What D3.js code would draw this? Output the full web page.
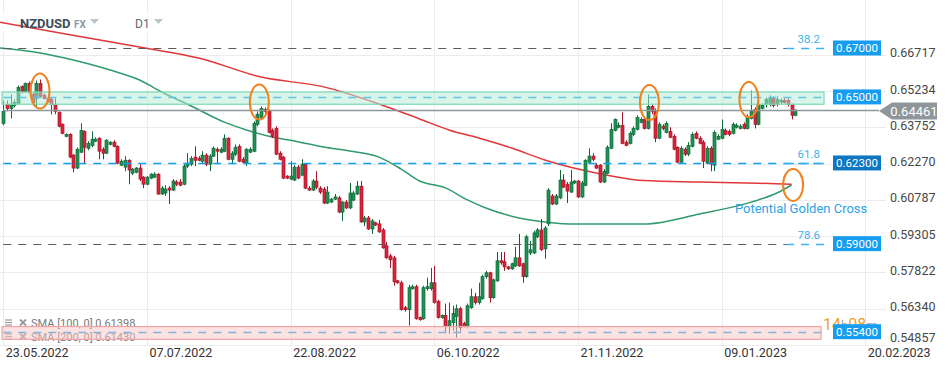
<!DOCTYPE html>
<html><head><meta charset="utf-8">
<script src="https://cdn.jsdelivr.net/npm/d3@7"></script>
<style>html,body{margin:0;padding:0;background:#fff;overflow:hidden}svg{display:block;font-family:Roboto,"Noto Sans",Arial,sans-serif}</style>
</head><body><svg id="c" width="949" height="370"></svg>
<script>
const symbol="NZDUSD", market="FX", interval="D1";
const openP=[
.6392,.6469,.6453,.6465,.6473,.6543,.6522,.6555,.6510,.6494,
.6555,.6506,.6494,.6490,.6469,.6437,.6388,.6339,.6347,.6262,
.6209,.6274,.6359,.6290,.6302,.6319,.6331,.6286,.6270,.6306,
.6315,.6298,.6221,.6213,.6241,.6188,.6192,.6209,.6172,.6143,
.6168,.6172,.6184,.6103,.6107,.6127,.6119,.6152,.6152,.6143,
.6217,.6225,.6254,.6249,.6237,.6262,.6225,.6258,.6286,.6274,
.6278,.6331,.6245,.6266,.6298,.6245,.6229,.6274,.6278,.6388,
.6416,.6449,.6441,.6363,.6371,.6270,.6254,.6176,.6164,.6160,
.6213,.6180,.6225,.6127,.6119,.6156,.6127,.6123,.6066,.6070,
.6082,.6087,.6029,.6070,.6046,.6078,.6103,.6135,.5989,.6005,
.5960,.5985,.5981,.5956,.5891,.5850,.5842,.5748,.5740,.5638,
.5630,.5716,.5724,.5598,.5593,.5716,.5716,.5740,.5663,.5598,
.5606,.5561,.5577,.5602,.5634,.5573,.5561,.5638,.5683,.5659,
.5675,.5765,.5781,.5679,.5748,.5830,.5826,.5805,.5797,.5809,
.5842,.5818,.5765,.5862,.5862,.5928,.5956,.5879,.5981,.6095,
.6062,.6087,.6160,.6143,.6111,.6148,.6156,.6091,.6139,.6233,
.6258,.6221,.6221,.6152,.6188,.6290,.6363,.6376,.6384,.6315,
.6310,.6347,.6367,.6396,.6408,.6371,.6461,.6445,.6331,.6380,
.6355,.6359,.6339,.6294,.6233,.6286,.6266,.6298,.6351,.6331,
.6315,.6229,.6290,.6221,.6327,.6331,.6363,.6359,.6351,.6376,
.6371,.6388,.6371,.6412,.6449,.6388,.6453,.6469,.6469,.6494,
.6469,.6481,.6485,.6485,.6469,.6425];
const highP=[
.6485,.6485,.6510,.6490,.6547,.6547,.6559,.6563,.6518,.6567,
.6571,.6514,.6502,.6498,.6494,.6441,.6392,.6351,.6351,.6266,
.6294,.6392,.6363,.6319,.6359,.6335,.6335,.6294,.6327,.6319,
.6323,.6302,.6245,.6258,.6245,.6209,.6213,.6225,.6176,.6176,
.6188,.6192,.6188,.6135,.6139,.6135,.6164,.6160,.6164,.6225,
.6270,.6258,.6298,.6258,.6278,.6270,.6266,.6298,.6294,.6294,
.6347,.6335,.6278,.6306,.6306,.6254,.6290,.6294,.6400,.6441,
.6461,.6457,.6449,.6371,.6380,.6278,.6258,.6180,.6237,.6221,
.6221,.6245,.6229,.6135,.6164,.6196,.6135,.6131,.6135,.6087,
.6103,.6095,.6074,.6078,.6148,.6115,.6156,.6156,.6013,.6013,
.6001,.5989,.5997,.5964,.5907,.5858,.5850,.5752,.5748,.5646,
.5732,.5732,.5732,.5602,.5728,.5761,.5801,.5809,.5671,.5610,
.5655,.5659,.5646,.5651,.5642,.5581,.5655,.5716,.5699,.5740,
.5773,.5789,.5785,.5757,.5866,.5866,.5866,.5809,.5822,.5887,
.5940,.5822,.5936,.5911,.5952,.5964,.6001,.5972,.6127,.6103,
.6103,.6201,.6184,.6152,.6201,.6160,.6160,.6156,.6245,.6290,
.6270,.6229,.6225,.6205,.6302,.6392,.6412,.6396,.6437,.6323,
.6359,.6380,.6425,.6416,.6416,.6510,.6469,.6453,.6396,.6388,
.6400,.6376,.6347,.6298,.6298,.6294,.6315,.6355,.6359,.6339,
.6323,.6298,.6298,.6363,.6347,.6408,.6371,.6367,.6396,.6392,
.6388,.6396,.6429,.6526,.6457,.6477,.6473,.6498,.6506,.6502,
.6502,.6494,.6494,.6494,.6473,.6449];
const lowP=[
.6384,.6441,.6412,.6457,.6469,.6514,.6518,.6514,.6465,.6461,
.6498,.6490,.6477,.6429,.6429,.6376,.6347,.6335,.6249,.6192,
.6205,.6270,.6229,.6282,.6294,.6315,.6245,.6245,.6266,.6302,
.6294,.6225,.6217,.6196,.6143,.6180,.6188,.6156,.6127,.6139,
.6164,.6168,.6099,.6099,.6095,.6062,.6115,.6135,.6135,.6139,
.6209,.6217,.6217,.6237,.6229,.6217,.6196,.6254,.6225,.6270,
.6274,.6241,.6225,.6258,.6233,.6229,.6217,.6270,.6274,.6380,
.6408,.6433,.6351,.6331,.6262,.6241,.6164,.6164,.6160,.6156,
.6164,.6176,.6123,.6115,.6115,.6123,.6103,.6062,.6062,.6066,
.6078,.6025,.5993,.6042,.6042,.6074,.6099,.5985,.5972,.5956,
.5940,.5972,.5944,.5879,.5838,.5801,.5728,.5736,.5626,.5622,
.5565,.5712,.5589,.5585,.5589,.5708,.5708,.5655,.5593,.5593,
.5537,.5532,.5545,.5516,.5541,.5557,.5553,.5634,.5651,.5651,
.5671,.5757,.5659,.5675,.5744,.5814,.5789,.5793,.5793,.5805,
.5805,.5740,.5761,.5854,.5858,.5923,.5871,.5838,.5972,.6058,
.6058,.6082,.6127,.6066,.6107,.6143,.6087,.6087,.6135,.6229,
.6237,.6205,.6148,.6148,.6184,.6286,.6359,.6371,.6306,.6298,
.6306,.6339,.6363,.6392,.6367,.6367,.6429,.6315,.6327,.6363,
.6351,.6331,.6282,.6229,.6229,.6258,.6258,.6294,.6327,.6306,
.6209,.6225,.6196,.6196,.6323,.6327,.6343,.6339,.6347,.6371,
.6367,.6367,.6367,.6408,.6371,.6384,.6449,.6457,.6461,.6457,
.6461,.6469,.6473,.6461,.6408,.6421];
const closeP=[
.6441,.6453,.6469,.6477,.6539,.6522,.6555,.6518,.6477,.6555,
.6502,.6494,.6481,.6469,.6441,.6380,.6351,.6347,.6254,.6209,
.6286,.6363,.6294,.6310,.6327,.6327,.6278,.6270,.6323,.6315,
.6298,.6229,.6237,.6241,.6201,.6205,.6209,.6164,.6143,.6172,
.6184,.6184,.6103,.6127,.6123,.6119,.6156,.6143,.6139,.6217,
.6229,.6249,.6241,.6241,.6262,.6225,.6258,.6290,.6278,.6286,
.6331,.6245,.6270,.6294,.6237,.6233,.6286,.6286,.6392,.6429,
.6453,.6441,.6355,.6339,.6266,.6245,.6168,.6168,.6176,.6213,
.6168,.6225,.6127,.6119,.6156,.6131,.6111,.6066,.6111,.6082,
.6091,.6029,.6070,.6046,.6107,.6107,.6135,.5989,.6005,.5960,
.5993,.5976,.5948,.5883,.5842,.5834,.5744,.5740,.5630,.5630,
.5720,.5724,.5593,.5589,.5720,.5724,.5740,.5659,.5598,.5606,
.5561,.5585,.5614,.5634,.5557,.5561,.5646,.5683,.5659,.5683,
.5765,.5781,.5679,.5752,.5830,.5822,.5805,.5797,.5818,.5842,
.5809,.5765,.5928,.5875,.5944,.5956,.5875,.5964,.6119,.6062,
.6095,.6160,.6131,.6115,.6152,.6156,.6091,.6148,.6241,.6258,
.6245,.6209,.6152,.6196,.6294,.6367,.6408,.6384,.6310,.6302,
.6351,.6371,.6416,.6408,.6371,.6461,.6441,.6331,.6388,.6371,
.6392,.6335,.6286,.6233,.6290,.6266,.6302,.6347,.6331,.6310,
.6237,.6290,.6225,.6355,.6339,.6367,.6347,.6347,.6388,.6384,
.6380,.6371,.6420,.6441,.6388,.6469,.6465,.6490,.6494,.6465,
.6490,.6485,.6477,.6469,.6425,.6446];

// moving averages, sampled at bar indices
const sma100Idx=[-1,10,19,29,37,43,51,60,66,73,79,87,94,102,108,113,120,126,131,140,147,156,174,189,205,210,214];
const sma100Val=[.6700,.6680,.6651,.6610,.6569,.6520,.6463,.6397,.6365,.6336,.6320,.6295,.6279,.6254,.6205,.6156,.6128,.6079,.6046,.6005,.5989,.5980,.5980,.6021,.6079,.6107,.61398];
const sma200Idx=[-1,20,40,53,70,87,102,113,121,130,138,147,156,165,174,189,205,214];
const sma200Val=[.6806,.6749,.6696,.6659,.6581,.6541,.6471,.6410,.6365,.6328,.6291,.6242,.6205,.6177,.6158,.6152,.6147,.61430];
const legendLabels=["SMA [100, 0] 0.61398","SMA [200, 0] 0.61430"];

// axes
const dateIdx=[0,39,78,117,156,195,234];
const dateLabels=["23.05.2022","07.07.2022","22.08.2022","06.10.2022","21.11.2022","09.01.2023","20.02.2023"];
const priceTicks=[0.66717,0.65234,0.63752,0.62270,0.60787,0.59305,0.57822,0.56340,0.54857];

// drawings
const levelPrices=[0.67,0.65,0.623,0.59,0.554];
const fibPrices=[0.67,0.623,0.59];
const fibLabels=["38.2","61.8","78.6"];
const zoneLow=[0.6470,0.5509], zoneHigh=[0.6520,0.5561], zoneFrom=[-0.35,-0.35], zoneTo=[222.8,222.0];
const lastPrice=0.64461;
const markIdx=[9.96,69.5,175.4,202.4,214.4];
const markPrice=[0.6524,0.6479,0.6477,0.6489,0.6140];
const noteText="Potential Golden Cross", noteIdx=198.6, notePrice=0.6042;
const timerParts=["14","h","08","m"];

const svg=d3.select('#c');
const x=d3.scaleLinear().domain([0,234]).range([3.3,865.3]);
const y=d3.scaleLinear().domain([0.67,0.554]).range([48,331.7]);
const bars=openP.map((o,i)=>({i,o,h:highP[i],l:lowP[i],c:closeP[i]}));

// grid
svg.append('g').selectAll('line').data(priceTicks).join('line')
  .attr('x1',0).attr('x2',886).attr('y1',d=>Math.round(y(d))+.5).attr('y2',d=>Math.round(y(d))+.5)
  .attr('stroke','#ececec');
svg.append('g').selectAll('line').data(dateIdx).join('line')
  .attr('x1',d=>Math.round(x(d))+.5).attr('x2',d=>Math.round(x(d))+.5).attr('y1',0).attr('y2',345)
  .attr('stroke','#ececec');

// axes
const ax=svg.append('g').attr('transform','translate(886,0)')
  .call(d3.axisRight(y).tickValues(priceTicks).tickFormat(d3.format('.5f')).tickSize(0).tickPadding(4));
ax.select('.domain').remove();
ax.selectAll('text').attr('fill','#474747').style('font-size','12.5px').style('font-family','Roboto').attr('dy','0.2em');
ax.selectAll('.tick').attr('transform',d=>`translate(0,${Math.min(y(d),339.5)})`);
const bx=svg.append('g').attr('transform','translate(0,345)')
  .call(d3.axisBottom(x).tickValues(dateIdx).tickFormat((d,i)=>dateLabels[i]).tickSize(0).tickPadding(3.5));
bx.select('.domain').remove();
bx.selectAll('text').attr('fill','#333').attr('text-anchor','start').attr('dx',2).style('font-size','12.5px').style('font-family','Roboto');

// header backdrop
svg.append('rect').attr('x',0).attr('y',12).attr('width',170).attr('height',21).attr('fill','#fff').attr('opacity',0.75);

// legend
const lg=svg.append('g');
legendLabels.forEach((t,i)=>{
  const yy=323+i*14;
  for(let k=0;k<3;k++) lg.append('line').attr('x1',5).attr('x2',12).attr('y1',yy-3+k*2.5).attr('y2',yy-3+k*2.5).attr('stroke','#9a9a9a').attr('stroke-width',1.2);
  lg.append('path').attr('d',`M20,${yy-3.5}L26,${yy+2.5}M26,${yy-3.5}L20,${yy+2.5}`).attr('stroke','#9a9a9a').attr('stroke-width',1.8);
  lg.append('text').attr('x',31).attr('y',yy+4).attr('fill','#7a7a7a').style('font-size','11px').text(t);
});

// SMA lines
const line=d3.line().x(d=>x(d[0])).y(d=>y(d[1])).curve(d3.curveMonotoneX);
svg.append('path').datum(sma200Idx.map((k,i)=>[k,sma200Val[i]])).attr('d',line)
  .attr('fill','none').attr('stroke','#e2373a').attr('stroke-width',1.5);
svg.append('path').datum(sma100Idx.map((k,i)=>[k,sma100Val[i]])).attr('d',line)
  .attr('fill','none').attr('stroke','#2f9a6c').attr('stroke-width',1.5);

// candles
const cg=svg.append('g');
const up=d=>d.c>=d.o;
cg.selectAll('line').data(bars).join('line')
  .attr('x1',d=>Math.round(x(d.i))+.5).attr('x2',d=>Math.round(x(d.i))+.5)
  .attr('y1',d=>y(d.h)).attr('y2',d=>y(d.l))
  .attr('stroke',d=>up(d)?'#0f6a3a':'#a3162a').attr('stroke-width',1);
cg.selectAll('rect').data(bars).join('rect')
  .attr('x',d=>Math.round(x(d.i))-1).attr('width',3)
  .attr('y',d=>y(Math.max(d.o,d.c))).attr('height',d=>Math.max(1.2,Math.abs(y(d.o)-y(d.c))))
  .attr('fill',d=>up(d)?'#1f9153':'#dc2339').attr('stroke',d=>up(d)?'#0f6a3a':'#a3162a').attr('stroke-width',0.7);

// horizontal levels
const grayLv=p=>p===0.67||p===0.59;
svg.append('g').selectAll('line').data(levelPrices).join('line')
  .attr('x1',x(0)).attr('x2',d=>grayLv(d)?x(212.5):x(223.9))
  .attr('y1',d=>Math.round(y(d))+.5).attr('y2',d=>Math.round(y(d))+.5)
  .attr('stroke',d=>grayLv(d)?'#5c5c5c':'#0ea0f2').attr('stroke-width',d=>grayLv(d)?1.2:1.6).attr('stroke-dasharray','8,7');
svg.append('g').selectAll('line').data(fibPrices).join('line')
  .attr('x1',x(212.5)).attr('x2',x(223.9))
  .attr('y1',d=>Math.round(y(d))+.5).attr('y2',d=>Math.round(y(d))+.5)
  .attr('stroke','#3cb2ee').attr('stroke-width',1.4).attr('stroke-dasharray','8,7');
svg.append('g').selectAll('text').data(fibPrices).join('text')
  .attr('x',x(215.6)).attr('y',d=>y(d)-5).attr('fill','#3cb2ee').style('font-size','11.5px').text((d,i)=>fibLabels[i]);

// last price line
svg.append('line').attr('x1',x(0)).attr('x2',879).attr('y1',Math.round(y(lastPrice))+.5).attr('y2',Math.round(y(lastPrice))+.5)
  .attr('stroke','#8d969b').attr('stroke-width',1.5);

// zones
const zones=zoneLow.map((l,i)=>({l,h:zoneHigh[i],f:zoneFrom[i],t:zoneTo[i],i}));
svg.append('g').selectAll('rect').data(zones).join('rect')
  .attr('x',d=>x(d.f)).attr('width',d=>x(d.t)-x(d.f)).attr('y',d=>y(d.h)).attr('height',d=>y(d.l)-y(d.h))
  .attr('fill',d=>d.i===0?'rgb(179,235,213)':'rgb(251,197,197)').attr('fill-opacity',0.5)
  .attr('stroke',d=>d.i===0?'#7ddab6':'#f0a4a4').attr('stroke-width',1.2);

// timer
const tm=svg.append('text').attr('x',823).attr('y',330).style('font-size','16px');
timerParts.forEach((t,i)=>tm.append('tspan').text(t).attr('fill',i%2===0?'#f5a02c':'#a6a6a6').style('font-size',i%2===0?'16px':'13px'));

// price boxes
const pb=svg.append('g').selectAll('g').data(levelPrices).join('g').attr('transform',d=>`translate(833,${y(d)})`);
pb.append('rect').attr('x',0).attr('y',-7.5).attr('width',48).attr('height',15).attr('fill',d=>d===0.623?'#0f76c2':'#169df0');
pb.append('text').attr('x',24).attr('y',0).attr('dy','0.36em').attr('text-anchor','middle').attr('fill','#fff').style('font-size','11.5px').text(d=>d3.format('.5f')(d));

// last price tag
const ly=y(lastPrice)+1;
svg.append('path').attr('d',`M879,${ly}L892,${ly-8.5}L937,${ly-8.5}L937,${ly+8.5}L892,${ly+8.5}Z`).attr('fill','#8d969b');
svg.append('text').attr('x',914).attr('y',ly).attr('dy','0.36em').attr('text-anchor','middle').attr('fill','#fff').style('font-size','13px').text(d3.format('.5f')(lastPrice));

// ellipse marks
svg.append('g').selectAll('ellipse').data(markIdx).join('ellipse')
  .attr('cx',d=>x(d)).attr('cy',(d,i)=>y(markPrice[i])).attr('rx',(d,i)=>i===4?10:9.5).attr('ry',(d,i)=>i===4?16:17.5)
  .attr('fill','none').attr('stroke','#f08220').attr('stroke-width',2);

// note
svg.append('text').attr('x',x(noteIdx)).attr('y',y(notePrice)).attr('dy','0.35em').attr('fill','#2ba4e6').style('font-size','13px').text(noteText);

// header text
svg.append('text').attr('x',20).attr('y',28).attr('fill','#3d4b57').style('font-size','13px').style('font-weight','bold').text(symbol);
svg.append('text').attr('x',74).attr('y',28).attr('fill','#8b9aa6').style('font-size','10px').style('font-weight','bold').text(market);
svg.append('text').attr('x',135).attr('y',28).attr('fill','#5e6a74').style('font-size','12px').text(interval);
[[90,19],[154,19]].forEach(p=>svg.append('path').attr('d',`M${p[0]},${p[1]}L${p[0]+9},${p[1]}L${p[0]+4.5},${p[1]+5}Z`).attr('fill','#c0c4c8'));
</script></body></html>
